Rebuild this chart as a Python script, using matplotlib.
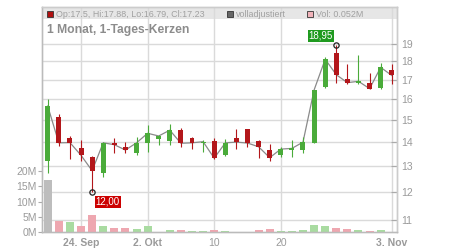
import numpy as np
import matplotlib
matplotlib.use("Agg")
import matplotlib.pyplot as plt
from matplotlib.ticker import NullLocator, NullFormatter
from matplotlib.patches import Rectangle

plt.rcParams['font.family'] = ['Liberation Sans', 'DejaVu Sans']

# Tageskerzen, 1 Monat
opens  = [13.22, 15.16, 14.19, 13.75, 13.39, 12.74, 13.98, 13.78, 13.55, 13.98, 14.16, 14.07, 14.54, 14.19, 13.98, 14.07,
          13.47, 14.19, 14.59, 14.07, 13.67, 13.45, 13.67, 13.67, 13.99, 16.60, 18.46, 17.03, 16.82, 16.82, 16.58, 17.50]
highs  = [16.00, 15.29, 14.28, 14.10, 13.42, 14.00, 14.19, 14.01, 14.22, 14.76, 14.34, 14.82, 14.63, 14.22, 14.10, 14.19,
          14.13, 14.60, 14.60, 14.10, 13.93, 13.81, 14.10, 14.22, 16.47, 18.26, 18.95, 17.85, 18.34, 17.35, 17.92, 17.88]
lows   = [12.74, 13.84, 13.30, 13.20, 12.00, 12.58, 13.55, 13.55, 13.47, 13.58, 13.87, 13.90, 13.78, 13.73, 13.58, 13.28,
          13.42, 13.73, 13.78, 13.33, 13.22, 13.39, 13.39, 13.55, 13.99, 16.55, 16.82, 16.80, 16.80, 16.50, 16.54, 16.79]
closes = [15.67, 13.98, 13.99, 13.45, 12.82, 13.98, 13.90, 13.67, 13.98, 14.40, 14.28, 14.54, 13.96, 13.98, 14.03, 13.33,
          13.98, 14.01, 13.97, 13.81, 13.35, 13.71, 13.74, 14.01, 16.47, 18.12, 17.27, 16.85, 16.92, 16.54, 17.67, 17.23]
volumes = [17.0, 3.6, 3.3, 2.0, 5.6, 2.0, 1.3, 1.3, 1.0, 2.0, 0.05, 0.6, 0.6, 0.3, 0.3, 0.6,
           0.2, 0.05, 0.05, 0.6, 1.0, 0.3, 0.3, 0.6, 2.3, 2.0, 1.3, 1.0, 0.6, 0.3, 0.6, 0.052]

tick_pos = [3, 9, 15, 21, 31]
tick_labels = ["24. Sep", "2. Okt", "10", "20", "3. Nov"]
price_ticks = [11, 12, 13, 14, 15, 16, 17, 18, 19]
vol_ticks = [0, 5, 10, 15, 20]

GREEN = '#4aab3a'
RED = '#b3171b'
GRID = '#dadada'
TXT = '#9a9a9a'

o = np.array(opens); h = np.array(highs); l = np.array(lows); c = np.array(closes)
x = np.arange(len(c))
up = c >= o

fig = plt.figure(figsize=(4.5, 2.5), dpi=100)
axp = fig.add_axes([41.5/450, 18/250, 355.5/450, 225/250])
axv = axp.twinx()
axp.yaxis.tick_right()
axv.yaxis.tick_left()

# Preisachse (log)
axp.set_yscale('log')
axp.set_ylim(10.60, 21.31)
axp.set_xlim(-0.56, 31.47)
axp.set_yticks(price_ticks)
axp.set_yticklabels([str(t) for t in price_ticks])
axp.yaxis.set_minor_locator(NullLocator())
axp.yaxis.set_minor_formatter(NullFormatter())
axp.set_xticks(tick_pos)
axp.set_xticklabels(tick_labels)
for lab, t in zip(axp.get_xticklabels(), tick_labels):
    if '.' in t:
        lab.set_fontweight('bold')
axp.set_axisbelow(True)
axp.grid(True, color=GRID, lw=1.0)
axp.tick_params(axis='y', which='major', direction='in', length=4, pad=3, colors='#aaaaaa',
                labelcolor=TXT, labelsize=7.5, right=True, left=False)
axp.tick_params(axis='x', length=0, pad=4.5, labelcolor=TXT, labelsize=7.5)

# Kopfzeile
axp.add_patch(Rectangle((0, 1 - 12/225), 1, 12/225, transform=axp.transAxes,
                        facecolor='#e6e6e6', edgecolor='none', zorder=0.1))

# Schlusskurslinie + Kerzen
axp.plot(x, c, color='#8a8a8a', lw=0.9, zorder=2)
cols = [GREEN if u else RED for u in up]
axp.vlines(x, l, h, colors=cols, lw=0.8, zorder=3)
axp.bar(x, np.maximum(np.abs(c - o), 0.02), bottom=np.minimum(o, c), width=0.45, color=cols, zorder=4)

# Hoch / Tief
imax = int(np.argmax(h)); imin = int(np.argmin(l))
axp.plot([imax, imin], [h[imax], l[imin]], 'o', ms=3.8, mfc='none', mec='#222222', mew=0.9, zorder=5)
axp.annotate(f"{h[imax]:.2f}".replace('.', ','), (imax, h[imax]), xytext=(-15.5, 9), textcoords='offset pixels',
             ha='center', va='center', color='white', fontsize=7, zorder=6,
             bbox=dict(boxstyle='square,pad=0.1', fc='#1f9a1f', ec='none'))
axp.annotate(f"{l[imin]:.2f}".replace('.', ','), (imin, l[imin]), xytext=(15.5, -9.8), textcoords='offset pixels',
             ha='center', va='center', color='white', fontsize=7, zorder=6,
             bbox=dict(boxstyle='square,pad=0.1', fc='#cc0000', ec='none'))

# Volumen
vcols = ['#bdbdbd'] + ['#a9dba1' if c[i] >= c[i-1] else '#eea7b0' for i in range(1, len(c))]
axv.bar(x, volumes, width=0.72, color=vcols, zorder=1)
axv.set_ylim(0, 74)
axv.set_yticks(vol_ticks)
axv.set_yticklabels([f"{v}M" for v in vol_ticks])
axv.tick_params(axis='y', direction='out', length=3, pad=0.5, colors='#aaaaaa', labelcolor=TXT, labelsize=7.5)

for ax in (axp, axv):
    for s in ax.spines.values():
        s.set_color('#cccccc')
        s.set_linewidth(1.0)
axv.spines['left'].set_color('#bbbbbb')
axv.spines['bottom'].set_color('#bbbbbb')

# Titel und Legende
fig.text(47/450, 1 - 33.5/250, "1 Monat, 1-Tages-Kerzen", fontsize=8.7, fontweight='bold', color='#8c8c8c', va='baseline')
legend = [(46.7, '#b01010', "Op:17.5, Hi:17.88, Lo:16.79, Cl:17.23"),
          (226.7, '#666666', "volladjustiert"),
          (306.7, '#f1b3ba', "Vol: 0.052M")]
for px, fc, txt in legend:
    fig.patches.append(Rectangle((px/450, 1 - 17.3/250), 6/450, 6/250, transform=fig.transFigure,
                                 facecolor=fc, edgecolor='#333333', lw=0.6, zorder=10))
    fig.text((px + 9.3)/450, 1 - 17.4/250, txt, fontsize=6.4, color='#a0a0a0', va='baseline', zorder=10)

fig.savefig('out.png', dpi=100)
